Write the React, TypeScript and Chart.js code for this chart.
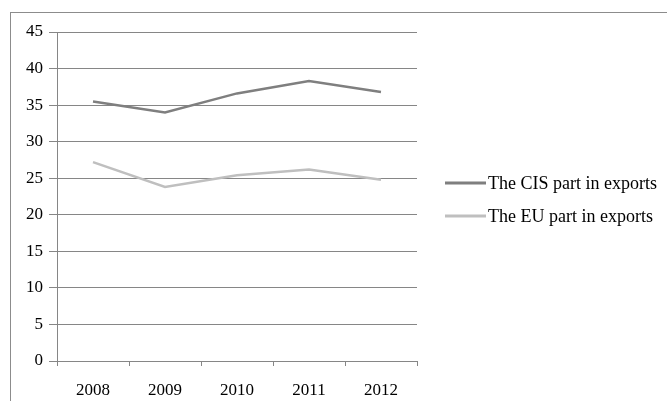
import React, { useEffect, useRef } from "react";
import { Chart, registerables } from "chart.js";

Chart.register(...registerables);

const years = ["2008", "2009", "2010", "2011", "2012"];
const cisValues = [35.5, 34.0, 36.6, 38.3, 36.8];
const euValues = [27.2, 23.8, 25.4, 26.2, 24.8];
const seriesLabels = ["The CIS part in exports", "The EU part in exports"];
const seriesColors = ["#7f7f7f", "#bfbfbf"];

const FONT = "'Liberation Serif', 'Times New Roman', serif";
const GRID = "#868686";

const framePlugin = {
  id: "frame",
  beforeDraw(chart: any) {
    const ctx = chart.ctx;
    ctx.save();
    ctx.strokeStyle = "#8c8c8c";
    ctx.lineWidth = 1;
    ctx.strokeRect(10.5, 12.5, 720, 440);
    ctx.restore();
  },
  afterDraw(chart: any) {
    const ctx = chart.ctx;
    const ys = [183, 216];
    ctx.save();
    chart.data.datasets.forEach((ds: any, i: number) => {
      const y = ys[i];
      ctx.strokeStyle = ds.borderColor;
      ctx.lineWidth = 3;
      ctx.beginPath();
      ctx.moveTo(445, y);
      ctx.lineTo(486, y);
      ctx.stroke();
      ctx.fillStyle = "#000";
      ctx.font = `18px ${FONT}`;
      ctx.textBaseline = "middle";
      ctx.textAlign = "left";
      ctx.fillText(ds.label, 488, y + 1);
    });
    ctx.restore();
  },
};

export default function App() {
  const ref = useRef<HTMLCanvasElement>(null);
  useEffect(() => {
    if (!ref.current) return;
    const chart = new Chart(ref.current, {
      type: "line",
      data: {
        labels: years,
        datasets: [
          {
            label: seriesLabels[0],
            data: cisValues,
            borderColor: seriesColors[0],
            backgroundColor: seriesColors[0],
            borderWidth: 2.5,
            pointRadius: 0,
            tension: 0,
          },
          {
            label: seriesLabels[1],
            data: euValues,
            borderColor: seriesColors[1],
            backgroundColor: seriesColors[1],
            borderWidth: 2.5,
            pointRadius: 0,
            tension: 0,
          },
        ],
      },
      options: {
        responsive: false,
        animation: false,
        devicePixelRatio: 1,
        layout: { padding: { left: 10, top: 32, right: 250, bottom: 0 } },
        plugins: { legend: { display: false }, tooltip: { enabled: false } },
        scales: {
          x: {
            offset: true,
            grid: {
              offset: true,
              drawOnChartArea: false,
              drawTicks: true,
              tickLength: 5,
              color: GRID,
            },
            border: { display: true, color: GRID },
            ticks: { color: "#000", font: { family: FONT, size: 17 }, padding: 14, maxRotation: 0 },
            afterFit: (s: any) => {
              s.height = 40;
            },
          },
          y: {
            min: 0,
            max: 45,
            ticks: { stepSize: 5, color: "#000", font: { family: FONT, size: 17 }, padding: 6 },
            grid: { color: GRID, tickLength: 8, drawTicks: true },
            border: { display: true, color: GRID },
            afterFit: (s: any) => {
              s.width = 47;
            },
          },
        },
      },
      plugins: [framePlugin],
    });
    return () => chart.destroy();
  }, []);
  return (
    <div style={{ position: "fixed", left: 0, top: 0, width: 667, height: 401, background: "#fff" }}>
      <canvas ref={ref} width={667} height={401} style={{ display: "block" }} />
    </div>
  );
}
